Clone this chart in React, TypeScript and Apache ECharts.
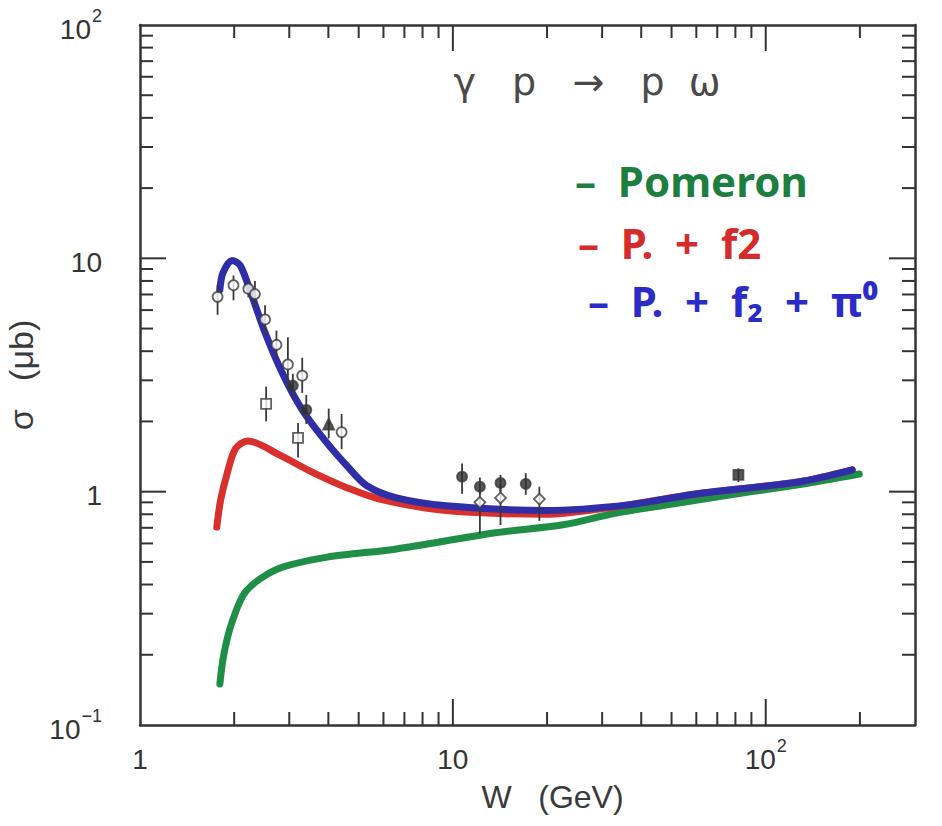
import React, { useEffect, useRef } from 'react';
import * as echarts from 'echarts';

// ---- axis ranges ----
const X_MIN = 1;
const X_MAX = 300;
const Y_MIN = 0.1;
const Y_MAX = 100;

// ---- tick labels ----
const xLabelValues = [1, 10, 100];
const xLabelTexts = ['{b|1}', '{b|10}', '{b|10}{s|2}'];
const yLabelValues = [0.1, 1, 10, 100];
const yLabelTexts = ['{b|10}{s|−1}', '{b|1}', '{b|10}', '{b|10}{s|2}'];
const xMajorTicks = [10, 100];
const yMajorTicks = [1, 10];
const minorMultipliers = [2, 3, 4, 5, 6, 7, 8, 9];
const xDecades = [1, 10, 100];
const yDecades = [0.1, 1, 10];

// ---- model curves ----
const pomeronW = [1.8, 1.85, 1.96, 2.18, 2.74, 3.97, 6.53, 13.7, 22.5, 32.7, 47.4, 77.3, 127, 199];
const pomeronSigma = [0.15, 0.198, 0.271, 0.374, 0.465, 0.524, 0.567, 0.667, 0.721, 0.806, 0.874, 0.97, 1.07, 1.19];

const pf2W = [1.76, 1.81, 1.9, 2.02, 2.21, 2.81, 3.6, 4.58, 5.83, 9.52, 19.9, 31.1, 36.9, 60.6, 127, 189];
const pf2Sigma = [0.705, 0.92, 1.2, 1.53, 1.65, 1.43, 1.2, 1.04, 0.93, 0.83, 0.8, 0.85, 0.88, 0.98, 1.1, 1.24];

const pf2piW = [1.8, 1.84, 1.97, 2.09, 2.25, 2.5, 2.87, 3.3, 3.91, 4.61, 5.31, 6.61, 9.53, 19.9, 36.9, 60.6, 127, 189];
const pf2piSigma = [7.33, 8.65, 9.8, 9.33, 7.26, 4.87, 3.16, 2.24, 1.65, 1.28, 1.06, 0.94, 0.87, 0.83, 0.88, 0.98, 1.1, 1.24];

// ---- data points ----
const openCircleW = [1.77, 1.99, 2.22, 2.33, 2.51, 2.73, 2.97, 3.3, 4.41];
const openCircleS = [6.84, 7.67, 7.41, 7.03, 5.47, 4.26, 3.51, 3.14, 1.8];
const openCircleLo = [5.73, 6.61, 6.8, 6.2, 4.7, 3.7, 2.8, 2.65, 1.52];
const openCircleHi = [7.7, 8.45, 8.1, 8.0, 6.3, 4.9, 4.59, 3.75, 2.15];

const openSquareW = [2.53, 3.2];
const openSquareS = [2.38, 1.7];
const openSquareLo = [2.0, 1.4];
const openSquareHi = [2.82, 1.97];

const triangleW = [4.01];
const triangleS = [1.95];
const triangleLo = [1.69];
const triangleHi = [2.27];

const filledCircleW = [3.08, 3.4, 10.7, 12.2, 14.2, 17.1];
const filledCircleS = [2.85, 2.24, 1.16, 1.05, 1.09, 1.08];
const filledCircleLo = [2.5, 1.95, 0.98, 0.97, 1.0, 0.97];
const filledCircleHi = [3.2, 2.6, 1.32, 1.15, 1.18, 1.2];

const diamondW = [12.2, 14.2, 18.9];
const diamondS = [0.9, 0.94, 0.93];
const diamondLo = [0.66, 0.72, 0.75];
const diamondHi = [1.0, 1.07, 1.05];

const filledSquareW = [81.8];
const filledSquareS = [1.18];
const filledSquareLo = [1.1];
const filledSquareHi = [1.26];

const GREEN = '#1f8f48';
const RED = '#d8302d';
const BLUE = '#2e2ea8';
const INK = '#333333';
const FONT = '"Liberation Sans", Arial, sans-serif';

function zip(a: number[], b: number[]) {
  return a.map((v, i) => [v, b[i]]);
}

function labelFor(values: number[], texts: string[]) {
  return (v: number) => {
    for (let i = 0; i < values.length; i++) {
      if (Math.abs(Math.log10(v) - Math.log10(values[i])) < 1e-6) return texts[i];
    }
    return '';
  };
}

export default function App() {
  const ref = useRef<HTMLDivElement>(null);

  useEffect(() => {
    if (!ref.current) return;
    const chart = echarts.init(ref.current, null, { renderer: 'svg' });

    const xMinor = xDecades.flatMap((d) => minorMultipliers.map((m) => m * d)).filter((v) => v < X_MAX);
    const yMinor = yDecades.flatMap((d) => minorMultipliers.map((m) => m * d)).filter((v) => v < Y_MAX);
    const xTickData = [...xMinor.map((v) => [v, 1, 0]), ...xMajorTicks.map((v) => [v, 1, 1])];
    const yTickData = [...yMinor.map((v) => [2, v, 0]), ...yMajorTicks.map((v) => [2, v, 1])];

    const tickStyle = { stroke: INK, lineWidth: 2 };

    const errData = [
      ...openCircleW.map((w, i) => [w, openCircleLo[i], openCircleHi[i]]),
      ...openSquareW.map((w, i) => [w, openSquareLo[i], openSquareHi[i]]),
      ...triangleW.map((w, i) => [w, triangleLo[i], triangleHi[i]]),
      ...filledCircleW.map((w, i) => [w, filledCircleLo[i], filledCircleHi[i]]),
      ...diamondW.map((w, i) => [w, diamondLo[i], diamondHi[i]]),
      ...filledSquareW.map((w, i) => [w, filledSquareLo[i], filledSquareHi[i]]),
    ];

    const rich = {
      b: { fontSize: 28, color: INK, fontFamily: FONT, lineHeight: 36, verticalAlign: 'bottom' },
      s: { fontSize: 18, color: INK, fontFamily: FONT, lineHeight: 36, verticalAlign: 'top', padding: [0, 0, 15, 1] },
    };

    const curveLine = (name: string, w: number[], s: number[], color: string) => ({
      name,
      type: 'line',
      data: zip(w, s),
      showSymbol: false,
      symbol: 'none',
      smooth: 0.3,
      lineStyle: { color, width: 7, cap: 'round', join: 'round' },
      z: 2,
    });

    const pointSeries = (name: string, w: number[], s: number[], symbol: string, filled: boolean, size: number) => ({
      name,
      type: 'scatter',
      data: zip(w, s),
      symbol,
      symbolSize: size,
      itemStyle: { color: filled ? '#2e2e2e' : '#ffffff', borderColor: '#3a3a3a', borderWidth: 1.8 },
      z: 5,
    });

    const option = {
      animation: false,
      backgroundColor: '#ffffff',
      grid: { left: 140, top: 25, width: 775, height: 700, outerBoundsMode: 'none', containLabel: false },
      xAxis: [
        {
          type: 'log',
          logBase: 10,
          min: X_MIN,
          max: X_MAX,
          name: 'W   (GeV)',
          nameLocation: 'middle',
          nameGap: 56,
          nameTextStyle: { fontSize: 32, color: '#3a3a3a', fontFamily: FONT, padding: [0, 0, 0, 50] },
          axisLine: { show: true, lineStyle: { color: INK, width: 2.5 } },
          axisTick: { show: false },
          splitLine: { show: false },
          axisLabel: { formatter: labelFor(xLabelValues, xLabelTexts), margin: 12, fontSize: 28, color: INK, fontFamily: FONT, rich },
        },
        {
          type: 'log',
          logBase: 10,
          min: X_MIN,
          max: X_MAX,
          position: 'top',
          axisLine: { show: true, lineStyle: { color: INK, width: 2.5 } },
          axisTick: { show: false },
          axisLabel: { show: false },
          splitLine: { show: false },
        },
      ],
      yAxis: [
        {
          type: 'log',
          logBase: 10,
          min: Y_MIN,
          max: Y_MAX,
          name: 'σ   (μb)',
          nameLocation: 'middle',
          nameGap: 84,
          nameTextStyle: { fontSize: 34, color: '#3a3a3a', fontFamily: FONT },
          axisLine: { show: true, lineStyle: { color: INK, width: 2.5 } },
          axisTick: { show: false },
          splitLine: { show: false },
          axisLabel: { formatter: labelFor(yLabelValues, yLabelTexts), margin: 38, fontSize: 28, color: INK, fontFamily: FONT, rich },
        },
        {
          type: 'log',
          logBase: 10,
          min: Y_MIN,
          max: Y_MAX,
          position: 'right',
          axisLine: { show: true, lineStyle: { color: INK, width: 2.5 } },
          axisTick: { show: false },
          axisLabel: { show: false },
          splitLine: { show: false },
        },
      ],
      graphic: [
        {
          type: 'text',
          x: 587,
          y: 82,
          style: {
            text: 'γ   p   →   p  ω',
            font: '38px "DejaVu Sans", sans-serif',
            fill: '#4a4a4a',
            align: 'center',
            verticalAlign: 'middle',
          },
        },
        {
          type: 'text',
          x: 575,
          y: 180,
          style: { text: '–  Pomeron', font: 'bold 42px "Noto Sans", sans-serif', fill: '#1c7e3f', align: 'left', verticalAlign: 'middle' },
        },
        {
          type: 'text',
          x: 578,
          y: 242,
          style: { text: '–  P.  +  f2', font: 'bold 42px "Noto Sans", sans-serif', fill: '#d42b2b', align: 'left', verticalAlign: 'middle' },
        },
        {
          type: 'text',
          x: 588,
          y: 300,
          style: { text: '–  P.  +  f₂  +  π⁰', font: 'bold 42px "Noto Sans", sans-serif', fill: '#2b2bc8', align: 'left', verticalAlign: 'middle' },
        },
      ],
      series: [
        {
          name: 'xTicks',
          type: 'custom',
          data: xTickData,
          encode: { x: 0, y: 1 },
          clip: false,
          silent: true,
          z: 1,
          renderItem: (_p: any, api: any) => {
            const v = api.value(0);
            const len = api.value(2) ? 26 : 13;
            const b = api.coord([v, Y_MIN]);
            const t = api.coord([v, Y_MAX]);
            return {
              type: 'group',
              children: [
                { type: 'line', shape: { x1: b[0], y1: b[1], x2: b[0], y2: b[1] - len }, style: tickStyle },
                { type: 'line', shape: { x1: t[0], y1: t[1], x2: t[0], y2: t[1] + len }, style: tickStyle },
              ],
            };
          },
        },
        {
          name: 'yTicks',
          type: 'custom',
          data: yTickData,
          encode: { x: 0, y: 1 },
          clip: false,
          silent: true,
          z: 1,
          renderItem: (_p: any, api: any) => {
            const v = api.value(1);
            const len = api.value(2) ? 26 : 13;
            const l = api.coord([X_MIN, v]);
            const r = api.coord([X_MAX, v]);
            return {
              type: 'group',
              children: [
                { type: 'line', shape: { x1: l[0], y1: l[1], x2: l[0] + len, y2: l[1] }, style: tickStyle },
                { type: 'line', shape: { x1: r[0], y1: r[1], x2: r[0] - len, y2: r[1] }, style: tickStyle },
              ],
            };
          },
        },
        curveLine('Pomeron', pomeronW, pomeronSigma, GREEN),
        curveLine('P + f2', pf2W, pf2Sigma, RED),
        curveLine('P + f2 + π0', pf2piW, pf2piSigma, BLUE),
        {
          name: 'errors',
          type: 'custom',
          data: errData,
          encode: { x: 0, y: [1, 2] },
          z: 4,
          renderItem: (_p: any, api: any) => {
            const a = api.coord([api.value(0), api.value(1)]);
            const b = api.coord([api.value(0), api.value(2)]);
            return { type: 'line', shape: { x1: a[0], y1: a[1], x2: b[0], y2: b[1] }, style: { stroke: '#3a3a3a', lineWidth: 1.8 } };
          },
        },
        pointSeries('open circles', openCircleW, openCircleS, 'circle', false, 10),
        pointSeries('open squares', openSquareW, openSquareS, 'rect', false, 10),
        pointSeries('triangles', triangleW, triangleS, 'triangle', true, 11),
        pointSeries('filled circles', filledCircleW, filledCircleS, 'circle', true, 10),
        pointSeries('open diamonds', diamondW, diamondS, 'diamond', false, 11),
        pointSeries('filled squares', filledSquareW, filledSquareS, 'rect', true, 10),
      ],
    };

    chart.setOption(option as any);
    return () => chart.dispose();
  }, []);

  return (
    <div
      ref={ref}
      style={{ position: 'fixed', left: 0, top: 0, width: 942, height: 826, background: '#ffffff' }}
    />
  );
}
